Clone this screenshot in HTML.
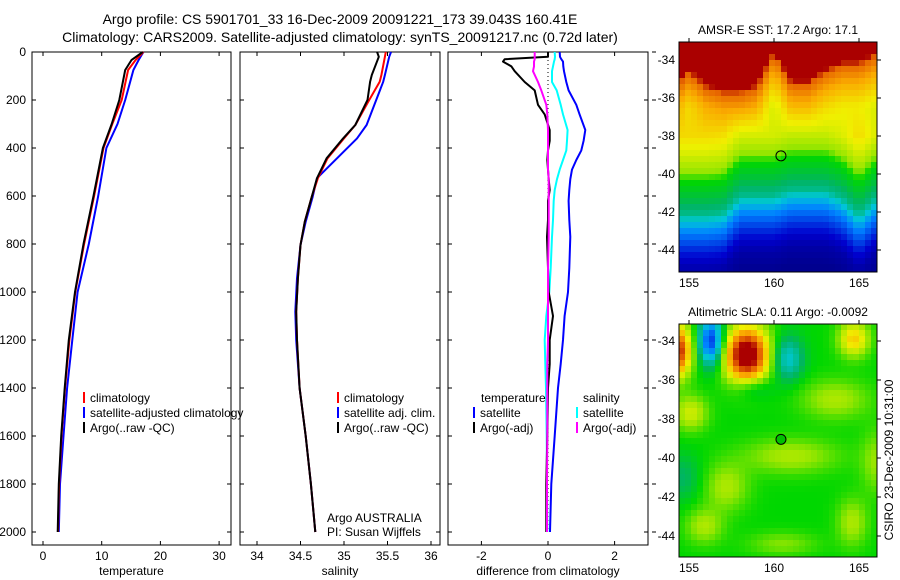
<!DOCTYPE html>
<html><head><meta charset="utf-8"><style>
body{margin:0;background:#fff;}
svg{display:block;font-family:"Liberation Sans",sans-serif;}
</style></head><body>
<svg id="fig" width="900" height="580" viewBox="0 0 900 580">
<text x="340" y="24" font-size="14" text-anchor="middle">Argo profile: CS 5901701_33 16-Dec-2009 20091221_173 39.043S 160.41E</text>
<text x="340" y="42" font-size="14" text-anchor="middle">Climatology: CARS2009. Satellite-adjusted climatology: synTS_20091217.nc (0.72d later)</text>
<g id="plots"></g>
</svg>
<script>
// ---- data ----
const depthTicks=[0,200,400,600,800,1000,1200,1400,1600,1800,2000];
const tempTicks=[0,10,20,30];
const salTicks=[34,34.5,35,35.5,36];
const diffTicks=[-2,0,2];
const tempD=[0,33,75,200,300,400,600,800,1000,1200,1400,1600,1800,2000];
const tempArgoV=[17.0,15.1,14.0,13.0,11.7,10.2,8.6,6.9,5.45,4.4,3.7,3.1,2.7,2.5];
const tempClimV=[17.1,15.8,14.5,13.4,11.8,10.3,8.7,7.0,5.5,4.5,3.75,3.15,2.75,2.55];
const tempSatV=[17.1,16.3,15.4,14.0,12.7,10.8,9.4,7.8,5.9,5.0,4.1,3.5,2.9,2.7];
const salD=[0,20,96,124,200,304,360,443,526,603,707,804,943,1082,1200,1400,1600,1800,2000];
const salArgoV=[35.38,35.40,35.32,35.3,35.27,35.13,34.99,34.80,34.69,34.63,34.55,34.50,34.47,34.45,34.46,34.49,34.56,34.62,34.67];
const salClimV=[35.48,35.47,35.43,35.41,35.29,35.13,35.0,34.81,34.70,34.63,34.55,34.50,34.47,34.45,34.46,34.49,34.56,34.62,34.67];
const salSatV=[35.54,35.52,35.47,35.45,35.37,35.26,35.15,34.92,34.69,34.64,34.56,34.50,34.46,34.44,34.45,34.49,34.56,34.62,34.67];
const diffD=[0,20,30,40,60,80,125,160,220,260,325,370,410,450,490,530,575,620,700,770,900,1000,1100,1200,1300,1400,1600,1800,2000];
const dTempSat=[0.35,0.36,0.4,0.45,0.46,0.48,0.55,0.62,0.85,0.95,1.12,1.07,1.0,0.85,0.72,0.67,0.64,0.62,0.64,0.67,0.64,0.6,0.5,0.45,0.38,0.3,0.2,0.1,0.06];
const dSalSat=[0.2,0.21,0.2,0.18,0.15,0.12,0.12,0.26,0.38,0.45,0.59,0.57,0.55,0.45,0.35,0.27,0.2,0.17,0.15,0.12,0.08,0.04,-0.05,-0.1,-0.08,-0.06,-0.04,-0.03,-0.02];
const dTempArgo=[0,0,-1.3,-1.35,-1.1,-1.0,-0.7,-0.4,-0.3,-0.1,0.05,0.05,0.0,-0.02,0.0,0.02,0.05,0.0,0.0,-0.03,0.0,0.02,0.15,0.05,0.05,0.0,-0.02,-0.05,-0.05];
const dSalArgo=[-0.4,-0.4,-0.4,-0.42,-0.42,-0.45,-0.3,-0.2,-0.05,-0.02,0,0,0,0,0,0.02,0.02,0.02,0.02,0.02,0,0,0,0,-0.02,-0.02,-0.02,-0.03,-0.03];
// SST map
const sstLats=[-33,-35.3,-35.6,-36.5,-37.5,-38.3,-39.3,-39.8,-40.8,-41.5,-42,-42.5,-43.5,-44.5,-45.5];
const sstVals=[0.96,0.95,0.84,0.76,0.7,0.66,0.6,0.52,0.47,0.42,0.33,0.25,0.15,0.06,0.02];
const sstLons=[154,155,156,157,158,159,160,161,162,163,164,165,166,167];
const sstTopShift=[0.1,-0.9,-0.1,0.2,0.2,-0.1,-1.9,-0.3,-0.3,-0.9,-1.3,-1.3,-1.8,-1.8];
const sstBotShift=[0.6,0.6,0.6,0.5,-0.4,-0.4,-0.4,-0.7,-0.7,-0.7,-0.3,0.6,-0.3,-0.4];
// SLA map blobs: lon, lat, rx, ry, amplitude
const slaBase=0.52;
const slaBlobs=[[158.4,-34.7,1.3,1.4,0.47],[154.2,-34.5,0.9,1.3,0.42],[156.3,-34.0,0.7,1.2,-0.36],[160.8,-34.9,0.9,1.1,-0.17],[164.7,-33.9,0.9,0.9,0.2],[155.1,-37.7,1.0,0.9,0.13],[161,-39.9,2.8,0.9,0.1],[157.2,-41.5,1.3,1.2,0.1],[155.9,-43.5,1.1,0.9,0.1],[164.6,-43.3,0.9,1.2,0.1],[154.6,-41,1.1,1.2,-0.07],[163.6,-37,2.0,1.0,0.1],[158.8,-36.4,1.1,0.6,-0.08],[166,-40.2,0.9,1.6,0.08],[160.5,-44.4,2.0,0.6,0.07]];
// ---- drawing ----
const NS='http://www.w3.org/2000/svg';
const root=document.getElementById('plots');
function el(t,a,p){const e=document.createElementNS(NS,t);for(const k in a)e.setAttribute(k,a[k]);(p||root).appendChild(e);return e;}
const yTop=52,yBot=545;
const yD=d=>52+d*0.24;
function panel(name,x0,x1,xs,ticks,label,yLabels,rightTicks){
  const g=el('g',{});
  
  
  const r=el('rect',{x:x0,y:yTop,width:x1-x0,height:yBot-yTop,fill:'none',stroke:'#000','stroke-width':1},g);
  
  
  ticks.forEach(t=>{const x=xs(t);
    el('line',{x1:x,x2:x,y1:yTop,y2:yTop+4,stroke:'#000'},g);
    el('line',{x1:x,x2:x,y1:yBot,y2:yBot-4,stroke:'#000'},g);
    const tx=el('text',{x:x,y:yBot+15,'font-size':12,'text-anchor':'middle'},g);tx.textContent=t;
    
    
  });
  depthTicks.forEach(d=>{const y=yD(d);
    el('line',{x1:x0,x2:x0+4,y1:y,y2:y,stroke:'#000'},g);
    el('line',{x1:x1,x2:x1-4,y1:y,y2:y,stroke:'#000'},g);
    if(rightTicks)el('line',{x1:x1+4,x2:x1+8,y1:y,y2:y,stroke:'#000'},g);
    if(yLabels){const tx=el('text',{x:x0-6,y:y+4,'font-size':12,'text-anchor':'end'},g);tx.textContent=d;
      
      }
  });
  const lt=el('text',{x:(x0+x1)/2,y:575,'font-size':12,'text-anchor':'middle'},g);lt.textContent=label;
  
  
  return g;
}
function line(g,ds,vs,xs,color,name,w){
  const pts=ds.map((d,i)=>xs(vs[i]).toFixed(1)+','+yD(d).toFixed(1)).join(' ');
  const p=el('polyline',{points:pts,fill:'none',stroke:color,'stroke-width':w||2,'stroke-linejoin':'round'},g);
  
  
}
function legend(g,x,y,color,txt){
  el('line',{x1:x,x2:x,y1:y-10,y2:y+1,stroke:color,'stroke-width':2},g);
  const t=el('text',{x:x+6,y:y,'font-size':12},g);t.textContent=txt;
  
  
}
// Temperature
const xT=v=>43+5.87*v;
const g1=panel('temperature-panel',32,231,xT,tempTicks,'temperature',true,false);
line(g1,tempD,tempSatV,xT,'#0000ff','satellite-temp-line');
line(g1,tempD,tempClimV,xT,'#ff0000','climatology-temp-line');
line(g1,tempD,tempArgoV,xT,'#000','argo-temp-line');
legend(g1,84,402,'#ff0000','climatology');legend(g1,84,417,'#0000ff','satellite-adjusted climatology');legend(g1,84,432,'#000','Argo(..raw -QC)');
// Salinity
const xS=v=>257+87*(v-34);
const g2=panel('salinity-panel',240,440,xS,salTicks,'salinity',false,false);
line(g2,salD,salSatV,xS,'#0000ff','satellite-sal-line');
line(g2,salD,salClimV,xS,'#ff0000','climatology-sal-line');
line(g2,salD,salArgoV,xS,'#000','argo-sal-line');
legend(g2,338,402,'#ff0000','climatology');legend(g2,338,417,'#0000ff','satellite adj. clim.');legend(g2,338,432,'#000','Argo(..raw -QC)');
let t1=el('text',{x:327,y:522,'font-size':12},g2);t1.textContent='Argo AUSTRALIA';

let t2=el('text',{x:327,y:536,'font-size':12},g2);t2.textContent='PI: Susan Wijffels';

// Difference
const xF=v=>548+33.3*v;
const g3=panel('difference-panel',448,648,xF,diffTicks,'difference from climatology',false,true);
el('line',{x1:xF(0),x2:xF(0),y1:yD(0),y2:yD(2000),stroke:'#000','stroke-dasharray':'1,3'},g3);
line(g3,diffD,dTempSat,xF,'#0000ff','temp-sat-diff-line');
line(g3,diffD,dSalSat,xF,'#00ffff','sal-sat-diff-line');
line(g3,diffD,dTempArgo,xF,'#000','temp-argo-diff-line');
line(g3,diffD,dSalArgo,xF,'#ff00ff','sal-argo-diff-line');
let lt1=el('text',{x:481,y:402,'font-size':12},g3);lt1.textContent='temperature';
let lt2=el('text',{x:583,y:402,'font-size':12},g3);lt2.textContent='salinity';
[lt1,lt2].forEach(t=>{});
legend(g3,474,417,'#0000ff','satellite');legend(g3,474,432,'#000','Argo(-adj)');
legend(g3,577,417,'#00ffff','satellite');legend(g3,577,432,'#ff00ff','Argo(-adj)');
// maps
const palStops=[[0,0,0,130],[0.12,0,0,205],[0.25,0,130,255],[0.35,0,200,215],[0.45,0,180,100],[0.52,0,215,0],[0.6,150,230,0],[0.68,240,240,0],[0.76,250,170,0],[0.84,230,100,0],[0.92,170,0,0],[1,170,0,0]];
function pal(v){v=Math.max(0,Math.min(1,v));
  for(let i=1;i<palStops.length;i++){if(v<=palStops[i][0]){const a=palStops[i-1],b=palStops[i],f=(v-a[0])/(b[0]-a[0]);
    return 'rgb('+[1,2,3].map(k=>Math.round(a[k]+f*(b[k]-a[k]))).join(',')+')';}}
  return 'rgb(170,0,0)';}
function interp(xs,ys,x){ if(x>=xs[0])return ys[0]; for(let i=1;i<xs.length;i++){if(x>=xs[i]){const f=(x-xs[i-1])/(xs[i]-xs[i-1]);return ys[i-1]+f*(ys[i]-ys[i-1]);}} return ys[ys.length-1];}
function interpLon(arr,lon){const i=Math.max(0,Math.min(sstLons.length-2,Math.floor(lon-154)));const f=Math.max(0,Math.min(1,lon-sstLons[i]));return arr[i]*(1-f)+arr[i+1]*f;}
function sstVal(lon,lat){
  const w=Math.max(0,Math.min(1,(lat+38)/1.5));
  const s=w*interpLon(sstTopShift,lon)+(1-w)*interpLon(sstBotShift,lon);
  return interp(sstLats,sstVals,lat+s);
}
function mapPanel(name,x0,x1,y0,y1,latToPx,title,valFn){
  const g=el('g',{});
  
  
  const lonPx=l=>774+17*(l-160);
  const pxLon=x=>160+(x-774)/17;
  const step=6;
  for(let y=y0;y<y1;y+=step)for(let x=x0;x<x1;x+=step){
    const v=valFn(pxLon(x+step/2),latToPx.inv(y+step/2));
    const c=el('rect',{x:x,y:y,width:Math.min(step,x1-x)+0.5,height:Math.min(step,y1-y)+0.5,fill:pal(v)},g);
    
    
  }
  el('rect',{x:x0,y:y0,width:x1-x0,height:y1-y0,fill:'none',stroke:'#000'},g);
  [155,160,165].forEach(l=>{const x=lonPx(l);
    el('line',{x1:x,x2:x,y1:y0,y2:y0-4,stroke:'#000'},g);
    const t=el('text',{x:x,y:y1+15,'font-size':12,'text-anchor':'middle'},g);t.textContent=l;
    });
  [-34,-36,-38,-40,-42,-44].forEach(l=>{const y=latToPx(l);
    el('line',{x1:x1,x2:x1+4,y1:y,y2:y,stroke:'#000'},g);
    const t=el('text',{x:x0-4,y:y+4,'font-size':12,'text-anchor':'end'},g);t.textContent=l;
    });
  const tt=el('text',{x:(x0+x1)/2,y:y0-8,'font-size':12,'text-anchor':'middle'},g);tt.textContent=title;
  
  const c=el('circle',{cx:lonPx(160.41),cy:latToPx(-39.043),r:5,fill:'none',stroke:'#000'},g);
  
  return c;
}
const topLat=l=>60+19*(-34-l);topLat.inv=y=>-34-(y-60)/19;
mapPanel('sst-map',679,877,42,272,topLat,'AMSR-E SST: 17.2  Argo: 17.1',sstVal);
const botLat=l=>341+19.5*(-34-l);botLat.inv=y=>-34-(y-341)/19.5;
const c2=mapPanel('sla-map',679,877,324,557,botLat,'Altimetric SLA: 0.11  Argo: -0.0092',(lon,lat)=>{let v=slaBase;slaBlobs.forEach(b=>{const dx=(lon-b[0])/b[2],dy=(lat-b[1])/b[3];v+=b[4]*Math.exp(-(dx*dx+dy*dy));});return v;});
c2.setAttribute('fill','#00c000');
const cs=el('text',{x:893,y:460,'font-size':12,'text-anchor':'middle',transform:'rotate(-90 893 460)'});
cs.textContent='CSIRO 23-Dec-2009 10:31:00';


</script>
</body></html>
